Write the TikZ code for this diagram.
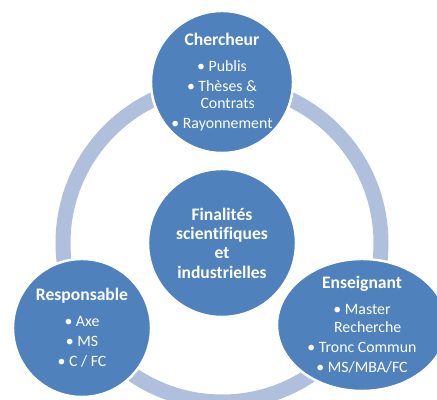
\documentclass[tikz,border=0pt]{standalone}
\usepackage{fontspec}
\setmainfont{Carlito}[Ligatures=NoCommon]
\usetikzlibrary{shapes.geometric}
\definecolor{roleblue}{RGB}{79,129,189}
\definecolor{ringblue}{RGB}{176,192,220}
\newcommand{\rolehead}[1]{{\bfseries\fontsize{10}{11}\selectfont #1}}

\begin{document}
\begin{tikzpicture}[
	role/.style={circle,fill=roleblue,draw=white,line width=1.4pt,inner sep=0pt},
	rolelist/.style={text=white,align=center,font=\fontsize{9}{11.5}\selectfont},
	goal/.style={text=white,align=center,font=\bfseries\fontsize{10}{11}\selectfont}]
	\clip (0,0) rectangle (8.74,8);
	\coordinate (O) at (4.44,3.14);
	
	% ring behind the four discs
	\draw[color=ringblue,line width=0.3cm] (O) circle (3.18);
	
	\node[role,minimum size=2.84cm] (cherch) at (4.44,6.36) {};
	\node[role,minimum size=2.96cm] (final) at (O) {};
	\node[role,minimum size=2.76cm] (resp) at (1.64,1.44) {};
	\node[role,ellipse,minimum width=3.4cm,minimum height=2.64cm] (ens) at (7.24,1.50) {};
	
	\node[goal] (finaltxt) at (final) {Finalités\\ scientifiques\\ et\\ industrielles};
	\node[rolelist] (cherchtxt) at (cherch) {\rolehead{Chercheur}\\[3.4pt] • Publis\\ • Thèses \&\\[-1.8pt] \phantom{• }Contrats\\ • Rayonnement};
	\node[rolelist] (resptxt) at (resp) {\rolehead{Responsable}\\[3.2pt] • Axe\\ • MS\\ • C / FC};
	\node[rolelist] (enstxt) at (ens) {\rolehead{Enseignant}\\[3.2pt] • Master\\[-1.2pt] \phantom{• }Recherche\\ • Tronc Commun\\ • MS/MBA/FC};
\end{tikzpicture}
\end{document}
